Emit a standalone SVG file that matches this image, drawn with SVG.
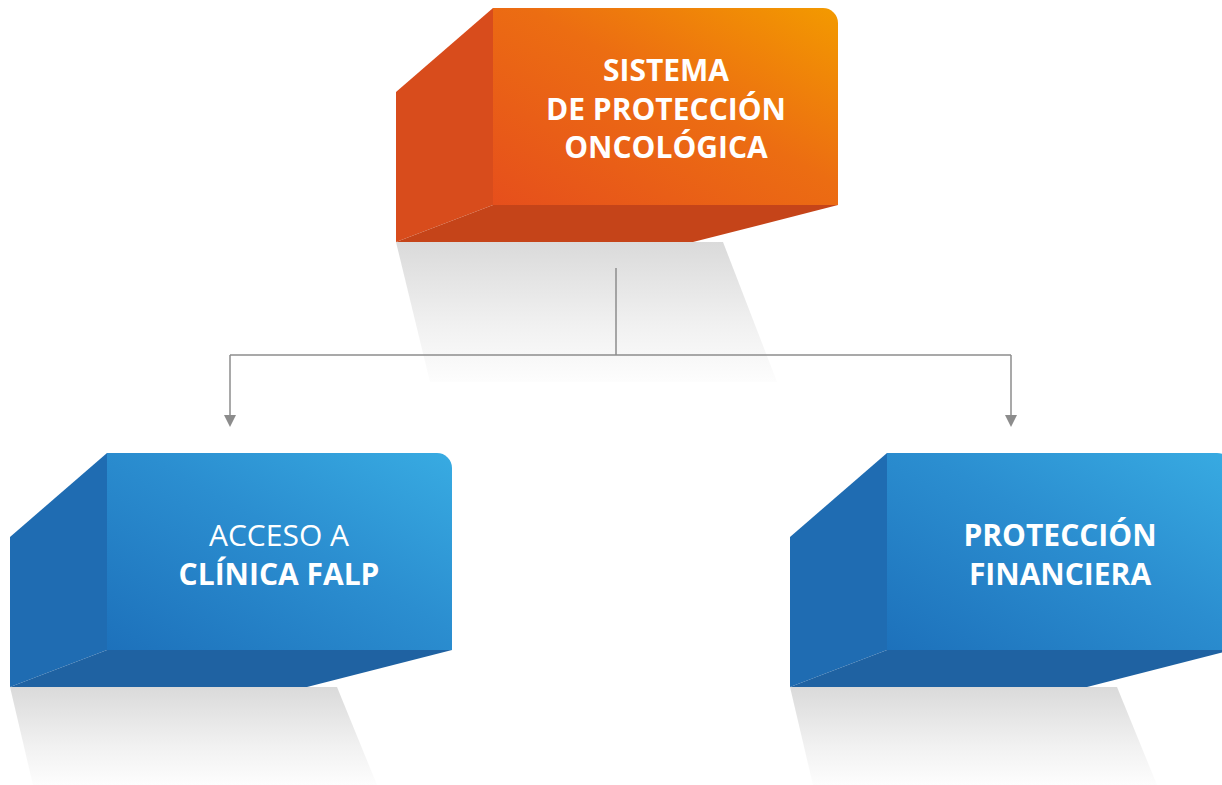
<svg xmlns="http://www.w3.org/2000/svg" width="1222" height="785" viewBox="0 0 1222 785">
<style>
.t{font-family:"Open Sans","Liberation Sans",sans-serif;font-size:30px;fill:#ffffff;text-anchor:middle}
.b{font-weight:700}
.r{font-weight:400}
.or-side{fill:#d84c1c}
.or-bot{fill:#c54419}
.bl-side{fill:#1f6cb2}
.bl-bot{fill:#1f62a2}
.conn{fill:none;stroke:#8c8c8c;stroke-width:1.5}
</style>
<defs>
<linearGradient id="gOr" x1="0" y1="1" x2="1" y2="0">
<stop offset="0" stop-color="#e64f1c"/>
<stop offset="0.55" stop-color="#ec6d12"/>
<stop offset="1" stop-color="#f39a00"/>
</linearGradient>
<linearGradient id="gBl" x1="0" y1="1" x2="1" y2="0">
<stop offset="0" stop-color="#1d71bb"/>
<stop offset="0.55" stop-color="#2b8ed0"/>
<stop offset="1" stop-color="#38abe2"/>
</linearGradient>
<linearGradient id="gSh" x1="0" y1="0" x2="0" y2="1">
<stop offset="0" stop-color="#dadada"/>
<stop offset="0.6" stop-color="#f1f1f1"/>
<stop offset="1" stop-color="#fdfdfd"/>
</linearGradient>
<marker id="arr" viewBox="0 0 10 10" refX="0" refY="5" markerWidth="13" markerHeight="12" markerUnits="userSpaceOnUse" orient="auto">
<path d="M0,0 L10,5 L0,10 Z" fill="#8c8c8c"/>
</marker>
</defs>
<rect width="1222" height="785" fill="#ffffff"/>

<g id="shadows">
<path d="M396,242 L723,242 L777,382 L430,382 Z" fill="url(#gSh)"/>
<path d="M10,687 L337,687 L377,785 L33,785 Z" fill="url(#gSh)"/>
<path d="M790,687 L1117,687 L1157,785 L813,785 Z" fill="url(#gSh)"/>
</g>

<g id="connectors">
<path class="conn" d="M616,268 V355"/>
<path class="conn" d="M230,355 H1011"/>
<path class="conn" d="M230,355 V415" marker-end="url(#arr)"/>
<path class="conn" d="M1011,355 V415" marker-end="url(#arr)"/>
</g>

<g id="node-sistema">
<path class="or-side" d="M396,92 L493,8 L493,205 L396,242 Z"/>
<path class="or-bot" d="M396,242 L493,205 L838,205 L693,242 Z"/>
<path d="M493,8 H823 A15,15 0 0 1 838,23 V205 H493 Z" fill="url(#gOr)"/>
<text class="t b" x="666" y="81">SISTEMA</text>
<text class="t b" x="666" y="120">DE PROTECCIÓN</text>
<text class="t b" x="666" y="158">ONCOLÓGICA</text>
</g>

<g id="node-acceso">
<path class="bl-side" d="M10,537 L107,453 L107,650 L10,687 Z"/>
<path class="bl-bot" d="M10,687 L107,650 L452,650 L307,687 Z"/>
<path d="M107,453 H437 A15,15 0 0 1 452,468 V650 H107 Z" fill="url(#gBl)"/>
<text class="t r" x="279" y="546">ACCESO A</text>
<text class="t b" x="279" y="585">CLÍNICA FALP</text>
</g>

<g id="node-proteccion">
<path class="bl-side" d="M790,537 L887,453 L887,650 L790,687 Z"/>
<path class="bl-bot" d="M790,687 L887,650 L1232,650 L1087,687 Z"/>
<path d="M887,453 H1217 A15,15 0 0 1 1232,468 V650 H887 Z" fill="url(#gBl)"/>
<text class="t b" x="1060" y="546">PROTECCIÓN</text>
<text class="t b" x="1060" y="585">FINANCIERA</text>
</g>
</svg>
